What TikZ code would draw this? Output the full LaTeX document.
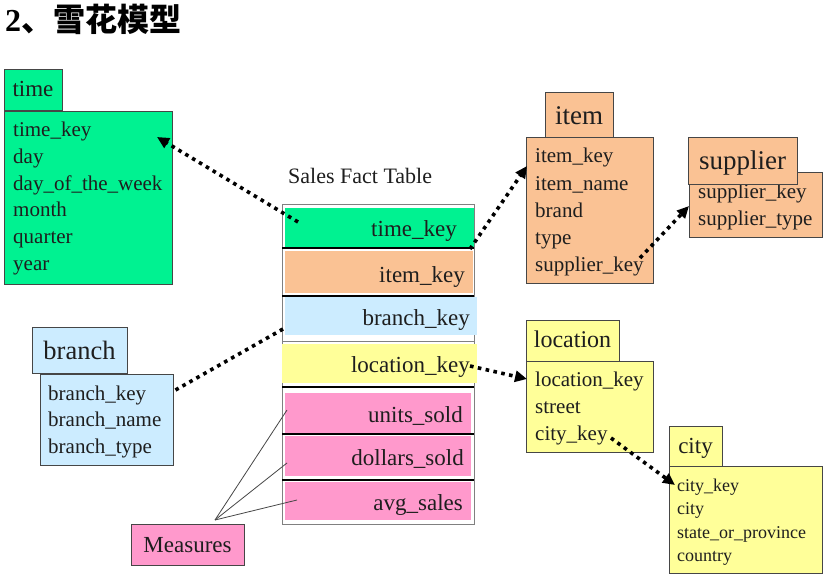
\documentclass[tikz,border=0pt]{standalone}
\usepackage{fontspec}
\setmainfont{Liberation Serif}
\newfontfamily\cjk{Noto Sans CJK SC}
\usetikzlibrary{arrows.meta}
\definecolor{cgreen}{RGB}{0,242,145}
\definecolor{corange}{RGB}{250,194,148}
\definecolor{cblue}{RGB}{204,236,255}
\definecolor{cyellow}{RGB}{255,255,153}
\definecolor{cpink}{RGB}{255,153,204}
\definecolor{boxline}{RGB}{70,70,70}
\definecolor{txt}{RGB}{30,30,30}
\tikzset{
  box/.style={draw=boxline, line width=1pt, inner sep=0pt, anchor=north west},
  hdr/.style={draw=boxline, line width=1pt, inner sep=0pt, text depth=0pt, text=txt},
  fld/.style={inner sep=0pt, anchor=base west, text=txt, font=\fontsize{21}{25}\selectfont},
  fldsmall/.style={fld, font=\fontsize{18}{22}\selectfont},
  factrow/.style={inner sep=0pt, anchor=north west, draw=none},
  facttxt/.style={inner sep=0pt, anchor=base east, text=txt, font=\fontsize{23}{27}\selectfont},
  sepline/.style={draw=black, line width=1.1pt},
  dotline/.style={draw=black, line width=3.6pt, dash pattern=on 3.6pt off 4.4pt},
  dotarrow/.style={dotline, -{Triangle[length=12pt,width=11pt]}},
  measline/.style={draw=boxline, line width=0.8pt}
}
\begin{document}
\begin{tikzpicture}[x=1pt,y=-1pt]
\useasboundingbox[fill=white] (0,0) rectangle (830,583);

% title
\node[inner sep=0pt, anchor=base west, font=\fontsize{32}{36}\selectfont\bfseries] (title) at (5,32) {2\cjk 、雪花模型};

% ---------- time ----------
\node[box, fill=cgreen, minimum width=168pt, minimum height=173pt] (timeb) at (4,111) {};
\foreach \t [count=\i] in {time\_key, day, day\_of\_the\_week, month, quarter, year}
  \node[fld] (timef\i) at (13,{137+26.6*(\i-1)}) {\t};
\node[hdr, fill=cgreen, minimum width=58pt, minimum height=41pt, text height=13pt, font=\fontsize{23}{27}\selectfont] (timeh) at (33,90.5) {time};

% ---------- branch ----------
\node[box, fill=cblue, minimum width=133pt, minimum height=91pt] (branchb) at (40,374) {};
\foreach \t [count=\i] in {branch\_key, branch\_name, branch\_type}
  \node[fld] (branchf\i) at (48,{400+26.5*(\i-1)}) {\t};
\node[hdr, fill=cblue, minimum width=95pt, minimum height=46pt, text height=18pt, font=\fontsize{26.5}{30}\selectfont] (branchh) at (79.5,350) {branch};

% ---------- item ----------
\node[box, fill=corange, minimum width=127pt, minimum height=146pt] (itemb) at (526,137) {};
\foreach \t [count=\i] in {item\_key, item\_name, brand, type, supplier\_key}
  \node[fld] (itemf\i) at (535,{163+27.2*(\i-1)}) {\t};
\node[hdr, fill=corange, minimum width=68pt, minimum height=45pt, text height=19pt, font=\fontsize{27}{31}\selectfont] (itemh) at (579,115.5) {item};

% ---------- supplier ----------
\node[box, fill=corange, minimum width=133pt, minimum height=65pt] (supb) at (689,172) {};
\foreach \t [count=\i] in {supplier\_key, supplier\_type}
  \node[fld] (supf\i) at (698,{198+27.5*(\i-1)}) {\t};
\node[hdr, fill=corange, minimum width=109pt, minimum height=46pt, text height=16pt, font=\fontsize{27}{31}\selectfont] (suph) at (742.5,161) {supplier};

% ---------- location ----------
\node[box, fill=cyellow, minimum width=127pt, minimum height=91pt] (locb) at (526,361) {};
\foreach \t [count=\i] in {location\_key, street, city\_key}
  \node[fld] (locf\i) at (535,{386+27*(\i-1)}) {\t};
\node[hdr, fill=cyellow, minimum width=93pt, minimum height=41pt, text height=13pt, font=\fontsize{24}{28}\selectfont] (loch) at (572.5,340.5) {location};

% ---------- city ----------
\node[box, fill=cyellow, minimum width=153pt, minimum height=107pt] (cityb) at (669,466) {};
\foreach \t [count=\i] in {city\_key, city, state\_or\_province, country}
  \node[fldsmall] (cityf\i) at (677,{491+23.6*(\i-1)}) {\t};
\node[hdr, fill=cyellow, minimum width=53pt, minimum height=40pt, text height=14pt, font=\fontsize{23}{27}\selectfont] (cityh) at (695.5,446) {city};

% ---------- fact table ----------
\node[inner sep=0pt, anchor=base west, text=txt, font=\fontsize{22}{26}\selectfont] (facttitle) at (288,183) {Sales Fact Table};
\node[box, draw=gray, line width=0.8pt, minimum width=192pt, minimum height=320pt] (fact) at (282,204) {};
\node[factrow, fill=cgreen,  minimum width=189pt, minimum height=40pt] (rtime)  at (285,208) {};
\node[factrow, fill=corange, minimum width=188pt, minimum height=42pt] (ritem)  at (285,251) {};
\node[factrow, fill=cblue,   minimum width=192pt, minimum height=38pt] (rbranch) at (285,297) {};
\node[factrow, fill=cyellow, minimum width=195pt, minimum height=39pt] (rloc)   at (282,344) {};
\node[factrow, fill=cpink,   minimum width=186pt, minimum height=40pt] (runits) at (285,393) {};
\node[factrow, fill=cpink,   minimum width=186pt, minimum height=40pt] (rdoll)  at (285,436) {};
\node[factrow, fill=cpink,   minimum width=186pt, minimum height=38pt] (ravg)   at (285,482) {};
\draw[sepline] (282,248) -- (474,248);
\draw[sepline] (282,296) -- (474,296);
\draw[draw=gray, line width=1pt] (282,341) -- (474,341);
\draw[sepline] (282,387) -- (474,387);
\draw[sepline] (282,434) -- (474,434);
\draw[sepline] (282,480) -- (474,480);
\node[facttxt] (ttime)  at (457,236) {time\_key};
\node[facttxt] (titem)  at (465,282) {item\_key};
\node[facttxt] (tbranch) at (470,325) {branch\_key};
\node[facttxt] (tloc)   at (470,372) {location\_key};
\node[facttxt] (tunits) at (463,422) {units\_sold};
\node[facttxt] (tdoll)  at (464,465) {dollars\_sold};
\node[facttxt] (tavg)   at (463,510) {avg\_sales};

% ---------- measures ----------
\node[hdr, fill=cpink, minimum width=113pt, minimum height=41pt, text height=15pt, font=\fontsize{23}{27}\selectfont] (meas) at (187.5,544.5) {Measures};
\coordinate (mfan) at (215,520);
\coordinate (mu) at (287,410);
\coordinate (md) at (287,463);
\coordinate (ma) at (297,500);
\draw[measline] (mfan) -- (mu);
\draw[measline] (mfan) -- (md);
\draw[measline] (mfan) -- (ma);

% ---------- dotted connectors ----------
\coordinate (c1s) at (298,222);
\coordinate (c1e) at (157,137);
\draw[dotarrow] (c1s) -- (c1e);
\coordinate (c2s) at (470,249);
\coordinate (c2e) at (527,166);
\draw[dotarrow] (c2s) -- (c2e);
\coordinate (c3s) at (640,258);
\coordinate (c3e) at (689,206);
\draw[dotarrow] (c3s) -- (c3e);
\coordinate (c4s) at (283,329);
\coordinate (c4e) at (172,392);
\draw[dotline] (c4s) -- (c4e);
\coordinate (c5s) at (470,366);
\coordinate (c5e) at (527,379);
\draw[dotarrow] (c5s) -- (c5e);
\coordinate (c6s) at (611,438);
\coordinate (c6e) at (675,485);
\draw[dotarrow] (c6s) -- (c6e);
\end{tikzpicture}
\end{document}
